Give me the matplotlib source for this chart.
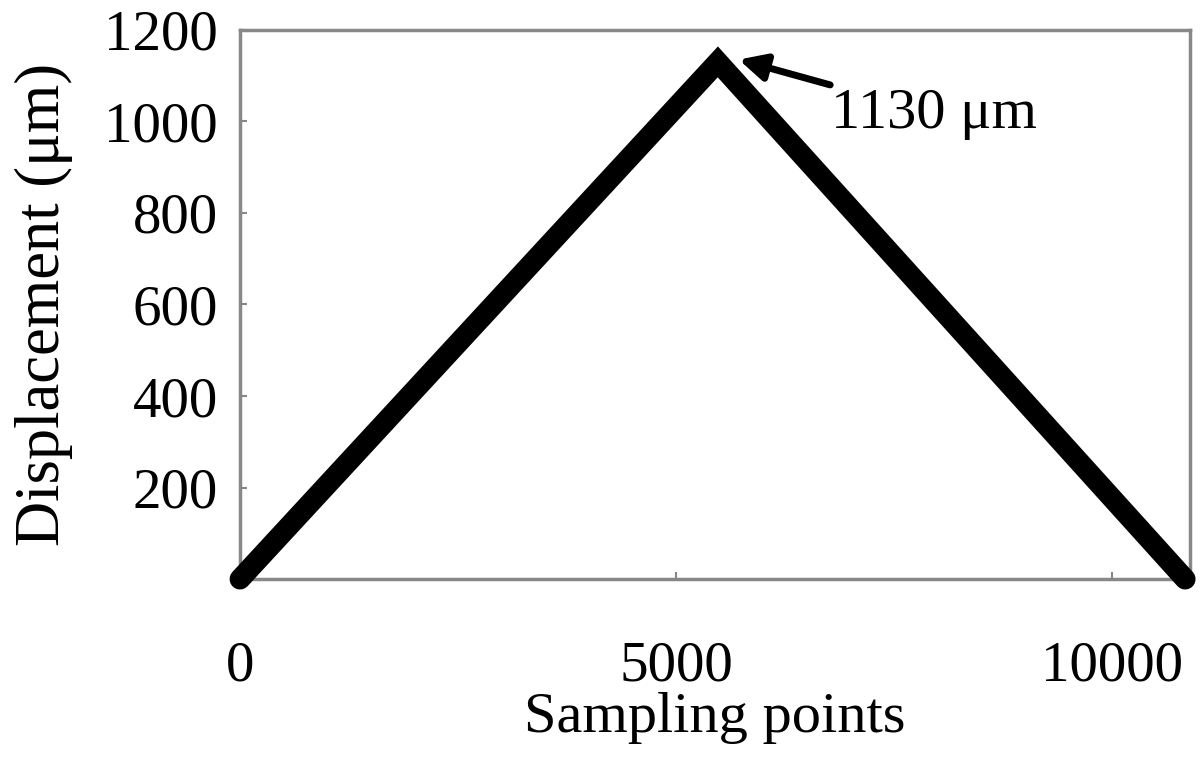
import matplotlib
matplotlib.use("Agg")
import matplotlib.pyplot as plt

# displacement profile: up to the peak and back down
samples = [0, 5480, 10840]
displacement = [0, 1130, 0]

yticks = [200, 400, 600, 800, 1000, 1200]
xticks = [0, 5000, 10000]

plt.rcParams['font.family'] = ['Liberation Serif', 'DejaVu Serif']

fig = plt.figure(figsize=(12, 7.65), dpi=100)
ax = fig.add_axes([0.2, 0.243, 0.792, 0.718])

ax.plot(samples, displacement, color="black", linewidth=15, solid_capstyle="round",
        solid_joinstyle="miter", clip_on=False, zorder=5)

ax.set_xlim(0, 10900)
ax.set_ylim(0, 1200)
ax.set_yticks(yticks)
ax.set_xticks(xticks)
ax.tick_params(axis="both", direction="in", length=5, width=1.5, color="#888888", labelsize=41)
ax.tick_params(axis="y", pad=16)
ax.tick_params(axis="x", pad=44)
for s in ax.spines.values():
    s.set_color("#888888")
    s.set_linewidth(2.5)

ax.set_ylabel("Displacement (μm)", fontsize=45, labelpad=22)
ax.set_xlabel("Sampling points", fontsize=42, labelpad=0)

ax.annotate("1130 μm", xy=(5720, 1135), xytext=(6780, 960), fontsize=42,
            va="bottom", ha="left",
            arrowprops=dict(arrowstyle="-|>", color="black", lw=5, mutation_scale=40,
                            shrinkA=0, shrinkB=0))

fig.savefig("out.png", dpi=100)
